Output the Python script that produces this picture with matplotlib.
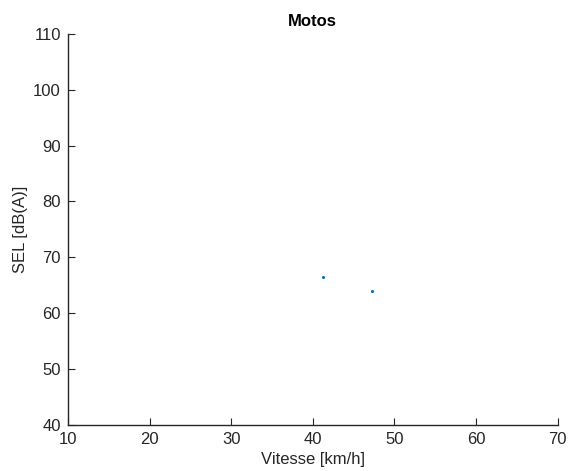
import matplotlib
matplotlib.use("Agg")
import matplotlib.pyplot as plt

# données : vitesse et SEL des motos
vitesse = [41.2, 47.2]
sel = [66.5, 63.9]

plt.rcParams['font.family'] = ['Liberation Sans', 'DejaVu Sans']

fig = plt.figure(figsize=(5.75, 4.71), dpi=100)
ax = fig.add_axes([0.118, 0.098, 0.852, 0.830])

ax.scatter(vitesse, sel, s=5, color='#0072BD', marker='o', linewidths=0)

ax.set_xlim(10, 70)
ax.set_ylim(40, 110)
ax.set_xticks(range(10, 71, 10))
ax.set_yticks(range(40, 111, 10))
ax.spines['top'].set_visible(False)
ax.spines['right'].set_visible(False)
for s in ['left', 'bottom']:
    ax.spines[s].set_color('#262626')
    ax.spines[s].set_linewidth(1.0)
ax.tick_params(direction='in', length=5, width=0.8, colors='#262626', labelsize=12, pad=5)

ax.set_xlabel('Vitesse [km/h]', fontsize=12, color='#262626', labelpad=4)
ax.set_ylabel('SEL [dB(A)]', fontsize=12, color='#262626', labelpad=4)
ax.set_title('Motos', fontsize=12, fontweight='bold', color='black', pad=6)

fig.savefig('out.png', dpi=100)
